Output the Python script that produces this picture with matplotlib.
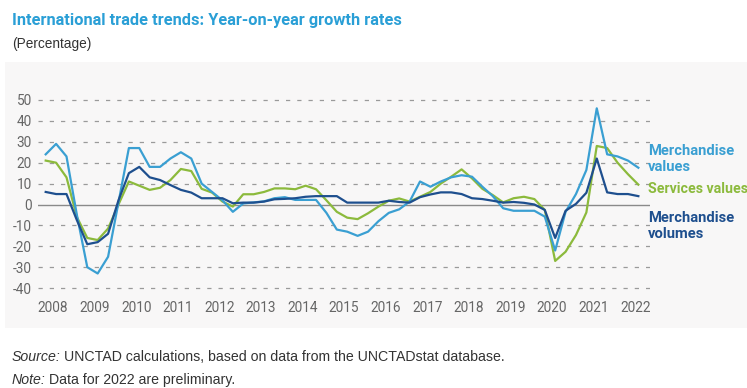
"""International trade trends: year-on-year growth rates (quarterly)."""
import matplotlib

matplotlib.use("Agg")
import matplotlib.pyplot as plt
from matplotlib.patches import Rectangle
import numpy as np

# quarterly observations, 2008 Q1 .. 2022 Q2
start_year = 2008
n_quarters = 58

merch_values = [
    24, 29, 23, -5, -30, -33, -25, 1,
    27, 27, 18, 18, 22, 25, 22, 10,
    6, 2, -3.5, 0.5, 1, 1.5, 3, 3.5,
    2.2, 2.2, 2.2, -4, -12, -13, -15, -13,
    -8, -4, -2.3, 1.4, 11, 8.5, 11, 13,
    14, 13.3, 8.5, 4, -1.8, -3, -3, -3,
    -5.8, -22, -3.5, 5, 16.5, 46, 24, 23,
    21, 17.6,
]
services_values = [
    21, 20, 13, -6, -16, -17, -11.5, 0,
    11, 9, 7, 8, 11.7, 17, 16, 7.5,
    5.7, 1.4, -1, 4.9, 4.9, 6, 7.7, 7.7,
    7.3, 9, 7.3, 2, -3.5, -6.3, -7, -4.2,
    -1, 1.8, 2.9, 1.4, 3.7, 6, 10, 13.3,
    16.8, 12.5, 7.5, 4.5, 1, 3, 3.7, 2.6,
    -2.6, -27, -22.6, -14.6, -3.8, 28, 27, 20,
    14.5, 9.5,
]
merch_volumes = [
    6, 5, 5, -7.5, -19, -18, -14, 2,
    15, 18, 13, 11.7, 9.3, 7, 5.7, 3,
    3, 3, 0.6, 0.9, 0.9, 1.4, 2.5, 2.7,
    3, 3.7, 4, 4, 4, 0.9, 0.9, 0.9,
    0.9, 1.8, 1.2, 0.9, 3.5, 4.8, 5.8, 5.8,
    5, 3, 2.6, 1.8, 0.9, 1.2, 0.8, 0,
    -2.6, -16, -3, 0.3, 5.6, 22, 5.8, 5,
    5, 4,
]
years = list(range(2008, 2023))
yticks = list(range(-40, 51, 10))

c_values = "#3a9fd2"
c_services = "#8cba3c"
c_volumes = "#1e4f8e"
c_title = "#2a9fd6"
c_tick = "#666666"

x = start_year + np.arange(n_quarters) / 4

fig = plt.figure(figsize=(7.47, 3.88), dpi=100)
fig.patches.append(Rectangle((5 / 747, 1 - 328 / 388), 1, (328 - 62) / 388,
                             transform=fig.transFigure, facecolor="#f8f7f7",
                             edgecolor="none", zorder=-1))

ax = fig.add_axes([38 / 747, 1 - 292.3 / 388, 612 / 747, 196.5 / 388])
ax.patch.set_alpha(0)
for s in ax.spines.values():
    s.set_visible(False)

for yv in yticks:
    if yv == 0:
        ax.axhline(0, color="#8a8a8a", lw=1.0, zorder=1)
    else:
        ax.axhline(yv, color="#9a9a9a", lw=0.9, ls=(0, (3.4, 5.6)), zorder=1)

ax.plot(x, services_values, color=c_services, lw=1.6, zorder=3)
ax.plot(x, merch_values, color=c_values, lw=1.6, zorder=4)
ax.plot(x, merch_volumes, color=c_volumes, lw=1.6, zorder=5)

ax.set_xlim(2007.815, 2022.53)
ax.set_ylim(-42, 52)
ax.set_yticks(yticks)
ax.set_yticklabels([str(v) for v in yticks])
ax.set_xticks([y + 0.175 for y in years])
ax.set_xticklabels([str(y) for y in years])
ax.tick_params(length=0, labelsize=9.8, labelcolor=c_tick)
ax.tick_params(axis="y", pad=4.5)
ax.tick_params(axis="x", pad=6)
for lab in ax.get_xticklabels() + ax.get_yticklabels():
    lab.set_family(["Roboto", "DejaVu Sans"])

# series labels at the right
lab_kw = dict(transform=fig.transFigure, fontweight="bold",
              family=["Roboto", "DejaVu Sans"], ha="left", va="center",
              linespacing=1.2)
fig.text(648 / 747, 1 - 159 / 388, "Merchandise\nvalues", color=c_values,
         fontsize=10.6, **lab_kw)
fig.text(648 / 747, 1 - 189 / 388, "Services values", color=c_services,
         fontsize=10.2, **lab_kw)
fig.text(648 / 747, 1 - 226 / 388, "Merchandise\nvolumes", color=c_volumes,
         fontsize=10.6, **lab_kw)

fig.text(12 / 747, 1 - 21 / 388, "International trade trends: Year-on-year growth rates",
         color=c_title, fontsize=11.8, fontweight="bold",
         family=["Liberation Sans Narrow", "Roboto", "DejaVu Sans"],
         ha="left", va="center")
fig.text(12 / 747, 1 - 44 / 388, "(Percentage)", color="#333333", fontsize=9.8,
         family=["Liberation Sans", "DejaVu Sans"], ha="left", va="center")

# source and note lines: italic lead-in followed by plain text
note_kw = dict(fontsize=10.2, color="#333333", family=["Liberation Sans", "DejaVu Sans"],
               va="center", ha="left")
renderer = fig.canvas.get_renderer()
for ypix, lead, rest in [(357, "Source:", "UNCTAD calculations, based on data from the UNCTADstat database."),
                         (380, "Note:", "Data for 2022 are preliminary.")]:
    t = fig.text(12 / 747, 1 - ypix / 388, lead, style="italic", **note_kw)
    bb = t.get_window_extent(renderer=renderer)
    fig.text(bb.x1 / fig.bbox.width + 3.5 / 747, 1 - ypix / 388, rest, **note_kw)

fig.savefig("out.png", dpi=100)
plt.close(fig)
